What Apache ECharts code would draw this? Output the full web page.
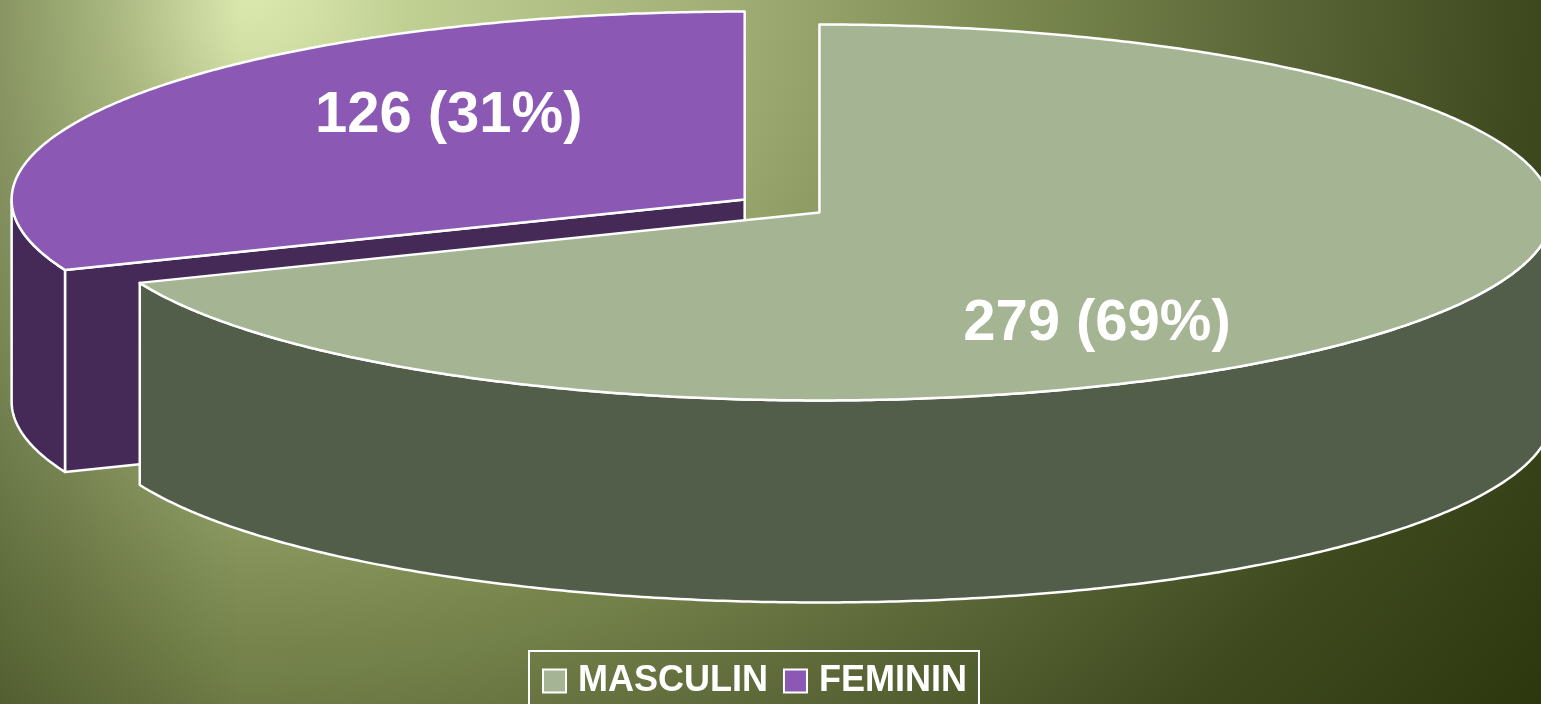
<!DOCTYPE html>
<html>
<head>
<meta charset="utf-8">
<script src="https://cdn.jsdelivr.net/npm/echarts@6/dist/echarts.min.js"></script>
<style>html,body{margin:0;padding:0;overflow:hidden}#c{width:1541px;height:704px}</style>
</head>
<body>
<div id="c"></div>
<script>
// ---- data ----
const NAMES = ['MASCULIN', 'FEMININ'];
const VALUES = [279, 126];
const TOP_COLORS = ['#A5B493', '#8B59B4'];
const SIDE_COLORS = ['#525D4A', '#452A58'];

// ---- layout (fractions of chart size) ----
const CX = 0.5075, CY = 0.2926, RX = 0.4757, RY = 0.267, DEPTH = 0.287;
const EXPLODE = 0.0615, START = 90;
const LABEL_R = 0.65, LABEL_ROT = -19, LABEL_DX = -0.006, LABEL_DY = 0.02;

const chart = echarts.init(document.getElementById('c'));
const W = chart.getWidth(), H = chart.getHeight();
const total = VALUES.reduce((a, b) => a + b, 0);
const rad = d => d * Math.PI / 180;

function sliceAngles(k) {
  let cum = 0;
  for (let i = 0; i < k; i++) cum += VALUES[i];
  const a0 = START - 360 * cum / total;
  const a1 = START - 360 * (cum + VALUES[k]) / total;
  return [a0, a1, (a0 + a1) / 2];
}
const ranks = VALUES.map((v, i) => i)
  .sort((a, b) => Math.sin(rad(sliceAngles(b)[2])) - Math.sin(rad(sliceAngles(a)[2])));

function makeRender(k) {
  return function (params, api) {
    const w = api.getWidth(), h = api.getHeight();
    const cx = w * CX, cy = h * CY, rx = w * RX, ry = h * RY, dep = h * DEPTH;
    const [a0, a1, mid] = sliceAngles(k);
    const ox = cx + EXPLODE * rx * Math.cos(rad(mid));
    const oy = cy - EXPLODE * ry * Math.sin(rad(mid));
    const P = (d, dy) => [ox + rx * Math.cos(rad(d)), oy - ry * Math.sin(rad(d)) + (dy || 0)];
    const arc = (from, to, dy) => {
      const n = Math.max(2, Math.ceil(Math.abs(to - from) / 0.5));
      const pts = [];
      for (let i = 0; i <= n; i++) pts.push(P(from + (to - from) * i / n, dy));
      return pts;
    };
    const rank = ranks.indexOf(k);
    const zb = rank * 10;
    const base = { stroke: '#ffffff', lineWidth: 2.5, lineJoin: 'round' };
    const children = [];
    const C = [ox, oy], Cd = [ox, oy + dep];
    // radial walls facing the viewer
    if (Math.cos(rad(a0)) < -1e-6) {
      children.push({ type: 'polygon', z2: zb + 1,
        shape: { points: [C, P(a0), P(a0, dep), Cd] },
        style: Object.assign({ fill: SIDE_COLORS[k] }, base) });
    }
    if (Math.cos(rad(a1)) > 1e-6) {
      children.push({ type: 'polygon', z2: zb + 1,
        shape: { points: [C, P(a1), P(a1, dep), Cd] },
        style: Object.assign({ fill: SIDE_COLORS[k] }, base) });
    }
    // outer walls (front half)
    for (let n = -2; n <= 2; n++) {
      const lo = Math.max(a1, -180 + 360 * n), hi = Math.min(a0, 360 * n);
      if (hi > lo) {
        const pts = arc(hi, lo, 0).concat(arc(lo, hi, dep));
        children.push({ type: 'polygon', z2: zb + 2,
          shape: { points: pts },
          style: Object.assign({ fill: SIDE_COLORS[k] }, base) });
      }
    }
    // top face
    children.push({ type: 'polygon', z2: zb + 3,
      shape: { points: [C].concat(arc(a0, a1, 0)) },
      style: Object.assign({ fill: TOP_COLORS[k] }, base) });
    // label
    const v = api.value(0);
    const pct = Math.round(v / total * 100);
    const la = rad(mid + LABEL_ROT);
    children.push({ type: 'text', z2: 100,
      x: ox + LABEL_R * rx * Math.cos(la) + LABEL_DX * w,
      y: oy - LABEL_R * ry * Math.sin(la) + LABEL_DY * h,
      style: { text: v + ' (' + pct + '%)', fill: '#ffffff', fontSize: 58, fontWeight: 'bold',
        fontFamily: '"Liberation Sans", Arial, sans-serif', align: 'center', verticalAlign: 'middle' } });
    return { type: 'group', children };
  };
}

const bgScaleY = 0.81;
const option = {
  animation: false,
  backgroundColor: '#2A340C',
  graphic: [
    { type: 'rect', z: 0, x: 0, y: 0, scaleY: bgScaleY, silent: true,
      shape: { x: 0, y: 0, width: W, height: H / bgScaleY },
      style: { fill: { type: 'radial', x: 250 / W, y: 0, r: 1600 / Math.min(W, H / bgScaleY),
        colorStops: [
          { offset: 0, color: '#DAE8AE' },
          { offset: 0.04, color: '#D2E0A6' },
          { offset: 0.1, color: '#C0CF92' },
          { offset: 0.3, color: '#A0AE76' },
          { offset: 0.35, color: '#96A46C' },
          { offset: 0.5, color: '#76844C' },
          { offset: 0.62, color: '#5E6A3A' },
          { offset: 0.8, color: '#3E4A1E' },
          { offset: 1, color: '#2A340C' }
        ] } } },
    { type: 'rect', z: 1, x: 0, y: 0, silent: true,
      shape: { x: 0, y: 0, width: 240, height: H },
      style: { fill: { type: 'linear', x: 0, y: 0, x2: 1, y2: 0,
        colorStops: [
          { offset: 0, color: 'rgba(30,40,10,0.3)' },
          { offset: 1, color: 'rgba(30,40,10,0)' }
        ] } } }
  ],
  legend: {
    data: NAMES.map((n, i) => ({ name: n, itemStyle: { color: TOP_COLORS[i], borderColor: '#ffffff', borderWidth: 2 } })),
    left: 529, top: 651, orient: 'horizontal',
    icon: 'rect', itemWidth: 23, itemHeight: 23, itemGap: 15,
    selectedMode: false,
    borderColor: '#ffffff', borderWidth: 2,
    padding: [10, 12, 30, 13],
    textStyle: { color: '#ffffff', fontSize: 36, fontWeight: 'bold',
      fontFamily: '"Liberation Sans", Arial, sans-serif', lineHeight: 40, padding: [0, 0, 0, 7] }
  },
  series: NAMES.map((n, k) => ({
    type: 'custom', name: n, coordinateSystem: 'none', z: 2,
    itemStyle: { color: TOP_COLORS[k] },
    data: [VALUES[k]],
    renderItem: makeRender(k)
  }))
};
chart.setOption(option);
</script>
</body>
</html>
